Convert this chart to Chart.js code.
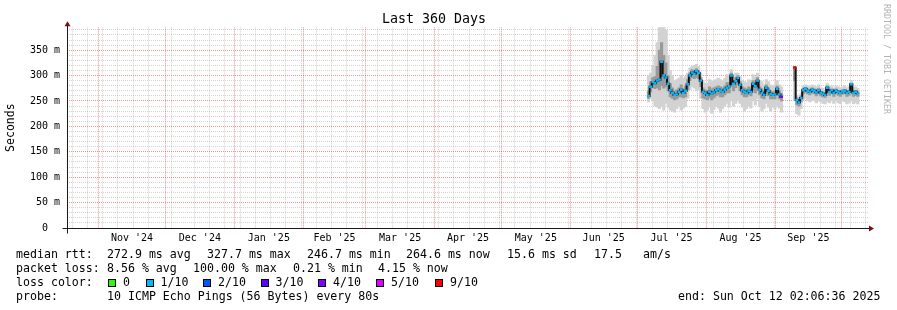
<!DOCTYPE html>
<html>
<head>
<meta charset="utf-8">
<script src="https://cdn.jsdelivr.net/npm/chart.js@4.4.1/dist/chart.umd.min.js"></script>
<style>
  body { margin: 0; background: #fff; }
  #wrap { position: relative; width: 897px; height: 310px; font-family: 'DejaVu Sans Mono', monospace; background: #fff; }
  #wrap canvas { position: absolute; left: 0; top: 0; }
  .t { position: absolute; font-size: 11.6px; line-height: 14px; white-space: pre; color: #000; }
  .sw { position: absolute; width: 6px; height: 6px; border: 1px solid #000; top: 279px; }
  #credit { position: absolute; left: 882px; top: 4px; writing-mode: vertical-rl; font-size: 8.3px; line-height: 10px; color: #b4b4b4; white-space: pre; }
</style>
</head>
<body>
<div id="wrap">
  <canvas id="smoke" width="897" height="310"></canvas>
  <div id="credit">RRDTOOL / TOBI OETIKER</div>
  <div class="t" style="left:16px;top:247px">median rtt:</div>
  <div class="t" style="left:107px;top:247px">272.9 ms avg</div>
  <div class="t" style="left:207px;top:247px">327.7 ms max</div>
  <div class="t" style="left:307px;top:247px">246.7 ms min</div>
  <div class="t" style="left:406px;top:247px">264.6 ms now</div>
  <div class="t" style="left:507px;top:247px">15.6 ms sd</div>
  <div class="t" style="left:594px;top:247px">17.5</div>
  <div class="t" style="left:643px;top:247px">am/s</div>
  <div class="t" style="left:16px;top:261px">packet loss:</div>
  <div class="t" style="left:107px;top:261px">8.56 % avg</div>
  <div class="t" style="left:193px;top:261px">100.00 % max</div>
  <div class="t" style="left:293px;top:261px">0.21 % min</div>
  <div class="t" style="left:378px;top:261px">4.15 % now</div>
  <div class="t" style="left:16px;top:275px">loss color:</div>
  <div id="lossLegend"></div>
  <div class="t" style="left:16px;top:289px">probe:</div>
  <div class="t" style="left:107px;top:289px">10 ICMP Echo Pings (56 Bytes) every 80s</div>
  <div class="t" style="left:678px;top:289px">end: Sun Oct 12 02:06:36 2025</div>
</div>
<script>
// time axis: 360 days ending Sun Oct 12 2025, in days from range start
const rangeStart = Date.UTC(2024, 9, 17, 19);
const rangeDays = 360;
const monthStarts = ['2024-11-01', '2024-12-01', '2025-01-01', '2025-02-01', '2025-03-01', '2025-04-01',
  '2025-05-01', '2025-06-01', '2025-07-01', '2025-08-01', '2025-09-01', '2025-10-01'];
const monthLabels = ["Nov '24", "Dec '24", "Jan '25", "Feb '25", "Mar '25", "Apr '25",
  "May '25", "Jun '25", "Jul '25", "Aug '25", "Sep '25"];
const firstWeek = '2024-10-20';

// one sample per day, starting at day 263 (early Jul 2025), null = no data
const firstDay = 263;
const median = [260,278,287,285,290,292,327,300,296,284,
  271,266,262,263,268,272,266,270,283,300,
  306,303,309,305,290,268,266,262,268,265,
  267,271,273,270,268,272,276,279,300,284,
  289,295,282,271,268,266,270,268,284,279,
  290,272,266,262,276,270,264,262,263,274,
  263,258,null,null,null,null,null,316,252,247,
  256,271,274,270,268,272,270,267,271,266,
  264,262,276,268,271,266,270,268,266,269,
  270,266,268,283,266,268,265];
const smokeLow = [248,255,250,240,238,235,240,232,245,238,
  232,230,228,235,240,232,236,240,255,272,
  278,275,270,272,255,235,228,232,238,226,
  233,240,236,228,235,240,245,238,250,240,
  245,250,245,238,230,235,240,236,250,242,
  255,240,230,235,245,238,230,238,235,240,
  236,228,null,null,null,null,null,250,225,222,
  235,252,255,250,248,252,250,246,250,248,
  245,244,248,246,250,245,250,246,244,250,
  248,244,246,250,244,246,244];
const smokeHigh = [300,305,320,340,365,395,395,395,390,340,
  310,300,290,292,295,300,295,298,305,315,
  318,320,322,318,305,290,285,285,292,288,
  290,292,295,292,290,295,302,298,312,300,
  305,305,298,290,288,286,292,290,302,298,
  305,290,288,282,292,288,282,280,282,290,
  282,278,null,null,null,null,null,318,262,258,
  265,280,282,280,278,282,280,278,282,276,
  275,272,284,278,280,276,280,278,276,278,
  280,276,278,290,276,278,275];
const smokeMidLow = [255,268,276,274,276,272,280,275,278,270,
  258,255,252,254,258,258,256,258,272,290,
  296,294,296,294,278,256,254,252,256,252,
  256,260,262,258,258,262,266,266,280,270,
  276,282,270,262,258,258,262,260,272,266,
  278,262,256,254,264,260,254,254,254,262,
  254,250,null,null,null,null,null,290,242,240,
  248,264,267,264,262,266,264,260,264,260,
  258,257,266,261,264,259,264,261,259,263,
  264,259,261,270,259,261,259];
const smokeMidHigh = [270,288,296,298,318,350,365,340,325,300,
  284,276,270,272,276,282,274,280,292,306,
  312,310,314,310,296,276,272,270,278,274,
  276,278,280,278,276,280,286,286,305,290,
  296,300,288,278,276,274,278,276,290,286,
  296,278,274,270,282,276,270,268,270,280,
  270,264,null,null,null,null,null,316,256,252,
  260,275,277,274,272,276,274,271,275,269,
  268,266,280,271,274,269,274,271,269,272,
  273,269,271,285,269,271,268];
// lost pings out of 10
const loss = [1,1,1,1,1,1,1,1,1,1,
  1,1,1,1,1,1,1,1,1,1,
  1,1,1,1,1,1,1,1,1,1,
  1,1,1,1,1,1,1,1,1,1,
  1,1,1,1,1,1,1,1,1,1,
  1,1,1,1,1,1,1,1,1,1,
  1,4,null,null,null,null,null,9,1,1,
  1,1,1,1,1,1,1,1,1,1,
  1,1,1,1,1,1,1,1,1,1,
  1,1,1,1,1,1,1];

const lossLabels = ['0', '1/10', '2/10', '3/10', '4/10', '5/10', '9/10'];
const lossColors = ['#26ff00', '#00b8ff', '#0059ff', '#5e00ff', '#7e00ff', '#dd00ff', '#ff0000'];
const yMajorValues = [0, 50, 100, 150, 200, 250, 300, 350];
const yMinorValues = [10,20,30,40,60,70,80,90,110,120,130,140,160,170,180,190,
  210,220,230,240,260,270,280,290,310,320,330,340,360,370,380,390];

const MONO = "'DejaVu Sans Mono', monospace";
const minorGrid = 'rgba(150,150,150,0.42)';
const majorGrid = 'rgba(240,30,30,0.48)';

function dayOf(s) { return (Date.parse(s) - rangeStart) / 86400000; }
const monthDays = monthStarts.map(dayOf);
const labelDays = monthLabels.map((_, i) => (monthDays[i] + monthDays[i + 1]) / 2);
// weekly minor lines, skipped where a month line already sits
const weekDays = [];
for (let d = dayOf(firstWeek); d < rangeDays; d += 7) {
  if (!monthDays.some(m => Math.abs(m - d) < 0.6)) weekDays.push(d);
}

function colorForLoss(n) {
  if (n == null) return lossColors[1];
  if (n >= 9) return lossColors[6];
  if (n >= 5) return lossColors[5];
  return lossColors[n];
}

// legend swatches for the loss colours
const legendSwatchX = [108, 145.5, 203, 260.5, 318, 375.5, 435];
const legendTextX = [123, 160.5, 218, 275.5, 333, 391, 450];
const lossLegend = document.getElementById('lossLegend');
lossLabels.forEach((lab, i) => {
  const sw = document.createElement('div');
  sw.className = 'sw';
  sw.style.left = legendSwatchX[i] + 'px';
  sw.style.background = lossColors[i];
  lossLegend.appendChild(sw);
  const t = document.createElement('div');
  t.className = 't';
  t.style.left = legendTextX[i] + 'px';
  t.style.top = '275px';
  t.textContent = lab;
  lossLegend.appendChild(t);
});

const band = (lo, hi) => lo.map((v, i) => ({ x: firstDay + i, y: v == null ? null : [v, hi[i]] })).filter(p => p.y);
const medianPts = median.map((v, i) => ({ x: firstDay + i, y: v }));

const axisArrows = {
  id: 'axisArrows',
  afterDraw(chart) {
    const { ctx, chartArea: a } = chart;
    const x0 = Math.round(a.left) + 0.5;
    const y0 = Math.round(a.bottom) + 0.5;
    ctx.save();
    ctx.strokeStyle = '#1a1a1a';
    ctx.lineWidth = 1;
    ctx.beginPath();
    ctx.moveTo(x0 - 5, y0); ctx.lineTo(a.right + 2, y0);
    ctx.moveTo(x0, y0 + 5); ctx.lineTo(x0, a.top - 2);
    ctx.stroke();
    ctx.fillStyle = '#7a1010';
    ctx.beginPath();
    ctx.moveTo(a.right + 6, y0); ctx.lineTo(a.right + 1, y0 - 3); ctx.lineTo(a.right + 1, y0 + 3);
    ctx.fill();
    ctx.beginPath();
    ctx.moveTo(x0, a.top - 6); ctx.lineTo(x0 - 3, a.top - 1); ctx.lineTo(x0 + 3, a.top - 1);
    ctx.fill();
    ctx.restore();
  }
};

// grid-only axes: minor grid sits below (z -1), major red grid above it
const gridAxis = (pos, ticks, gridColor, z, range) => ({
  type: 'linear', position: pos, min: range[0], max: range[1],
  afterBuildTicks: s => { s.ticks = ticks.map(v => ({ value: v })); },
  afterFit: s => { if (pos === 'bottom') s.height = 0; else s.width = 0; },
  ticks: { display: false, autoSkip: false },
  grid: { color: gridColor, drawTicks: false, lineWidth: 1, z: z },
  border: { display: false, dash: [1, 1] }
});

const smokeChart = new Chart(document.getElementById('smoke').getContext('2d'), {
  type: 'line',
  data: {
    datasets: [
      { type: 'bar', data: band(smokeLow, smokeHigh), backgroundColor: '#d2d2d2', barThickness: 2.5, grouped: false, order: 4 },
      { type: 'bar', data: band(smokeMidLow, smokeMidHigh), backgroundColor: '#9a9a9a', barThickness: 2.5, grouped: false, order: 3 },
      { type: 'line', data: medianPts, borderColor: '#111', borderWidth: 2, stepped: 'middle', pointRadius: 0, spanGaps: false, order: 2 },
      { type: 'line', data: medianPts, showLine: false, pointStyle: 'line', pointRadius: 1.5,
        pointBorderWidth: 2.4, pointBorderColor: loss.map(colorForLoss), order: 1 }
    ]
  },
  options: {
    responsive: false,
    animation: false,
    devicePixelRatio: 1,
    layout: { padding: { left: 0, right: 29, top: 0, bottom: 0 } },
    plugins: {
      legend: { display: false },
      tooltip: { enabled: false },
      title: { display: true, text: 'Last 360 Days', color: '#000',
        font: { family: MONO, size: 13.3, weight: 'normal', lineHeight: 1 }, padding: { top: 13, bottom: 1 } }
    },
    scales: {
      x: gridAxis('bottom', weekDays, minorGrid, -1, [0, rangeDays]),
      xMonth: gridAxis('bottom', monthDays, majorGrid, 0, [0, rangeDays]),
      xLabel: {
        type: 'linear', position: 'bottom', min: 0, max: rangeDays,
        afterBuildTicks: s => { s.ticks = labelDays.map(v => ({ value: v })); },
        afterFit: s => { s.height = 82; },
        ticks: { autoSkip: false, maxRotation: 0, padding: 4, color: '#000',
          font: { family: MONO, size: 10 }, callback: (v, i) => monthLabels[i] },
        grid: { display: false, drawTicks: false },
        border: { display: false }
      },
      y: gridAxis('left', yMinorValues, minorGrid, -1, [0, 395]),
      yMajor: {
        type: 'linear', position: 'left', min: 0, max: 395,
        afterBuildTicks: s => { s.ticks = yMajorValues.map(v => ({ value: v })); },
        afterFit: s => { s.width = 67; },
        ticks: { autoSkip: false, padding: 7, color: '#000', font: { family: MONO, size: 10 },
          callback: v => v === 0 ? '0  ' : v + ' m' },
        grid: { drawTicks: false, lineWidth: 1, color: majorGrid, z: 0 },
        border: { display: false, dash: [1, 1] },
        title: { display: true, text: 'Seconds', color: '#000', font: { family: MONO, size: 11.5 }, padding: { top: 4, bottom: 0 } }
      }
    }
  },
  plugins: [axisArrows]
});
</script>
</body>
</html>
